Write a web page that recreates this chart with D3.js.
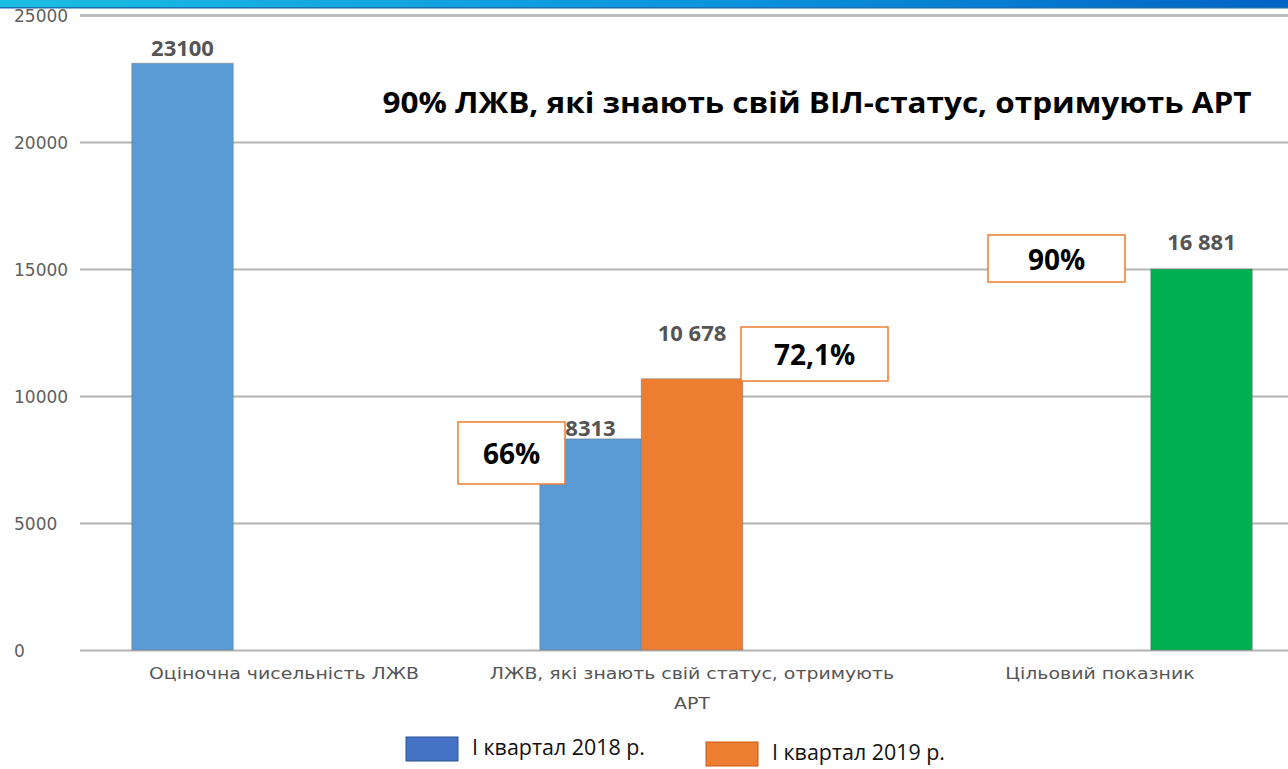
<!DOCTYPE html>
<html>
<head>
<meta charset="utf-8">
<script src="https://cdn.jsdelivr.net/npm/d3@7"></script>
<style>
    body { margin: 0; background: #fff; }
    svg { display: block; }
</style>
</head>
<body>
<svg></svg>
<script>
"use strict";

// chart data
var categories = ["Оціночна чисельність ЛЖВ", "ЛЖВ, які знають свій статус, отримують АРТ", "Цільовий показник"];
var series = ["І квартал 2018 р.", "І квартал 2019 р.", "target"];
var values = [
    [23100, null, null],
    [8313, 10678, null],
    [null, null, 15000]
];
var valueLabels = [
    ["23100", null, null],
    ["8313", "10 678", null],
    [null, null, "16 881"]
];
var yTicks = [0, 5000, 10000, 15000, 20000, 25000];
var title = "90% ЛЖВ, які знають свій ВІЛ-статус, отримують АРТ";
var percentNotes = ["66%", "72,1%", "90%"];

var width = 1288, height = 769;
var colors = ["#5b9bd5", "#ed7d31", "#00b050"];
var legendColors = ["#4472c4", "#ed7d31"];

var svg = d3.select("svg")
    .attr("width", width)
    .attr("height", height)
    .style("font-family", "'Open Sans', sans-serif");

// top banner strip
var grad = svg.append("defs").append("linearGradient")
    .attr("id", "banner").attr("x1", 0).attr("x2", 1).attr("y1", 0).attr("y2", 0);
grad.append("stop").attr("offset", "0%").attr("stop-color", "#1bbde3");
grad.append("stop").attr("offset", "60%").attr("stop-color", "#0a8fdc");
grad.append("stop").attr("offset", "100%").attr("stop-color", "#0063c4");
svg.append("rect").attr("x", 0).attr("y", 0).attr("width", width).attr("height", 8)
    .style("fill", "url(#banner)");
svg.append("rect").attr("x", 0).attr("y", 7).attr("width", width).attr("height", 1.5)
    .style("fill", "#1a6fb0");

// scales
var xScale = d3.scaleBand()
    .domain(categories)
    .range([80, 1304]);
var xInner = d3.scaleBand()
    .domain(series)
    .range([0, xScale.bandwidth()])
    .paddingOuter(0.51);
var yScale = d3.scaleLinear()
    .domain([0, 25000])
    .range([650, 15]);

// gridlines
var yAxis = d3.axisLeft(yScale)
    .tickValues(yTicks)
    .tickSize(-(width - 80))
    .tickFormat(d => d);

var gy = svg.append("g")
    .attr("transform", "translate(80,0)")
    .call(yAxis);
gy.select(".domain").remove();
gy.selectAll(".tick line")
    .style("stroke", "#b4b4b4")
    .style("stroke-width", 2);
gy.selectAll(".tick text")
    .attr("x", -66)
    .attr("dy", "0.36em")
    .attr("text-anchor", "start")
    .style("fill", "#606060")
    .style("font-size", "17px")
    .style("font-family", "'DejaVu Sans', sans-serif");
gy.selectAll(".tick").filter(d => d == 25000).select("line")
    .style("stroke", "#bdbdbd")
    .style("stroke-width", 3);

// bars
var cells = [];
categories.forEach(function(c, i) {
    series.forEach(function(s, j) {
        if (values[i][j] != null) {
            cells.push({cat: c, ser: s, j: j, value: values[i][j], label: valueLabels[i][j]});
        }
    });
});

svg.append("g")
    .selectAll("rect")
    .data(cells)
    .enter()
    .append("rect")
    .attr("x", d => xScale(d.cat) + xInner(d.ser))
    .attr("y", d => yScale(d.value))
    .attr("width", xInner.bandwidth())
    .attr("height", d => yScale(0) - yScale(d.value))
    .style("fill", d => colors[d.j])
    .style("stroke", "rgba(110,110,110,0.45)")
    .style("stroke-width", 1);

// value labels (manual offsets as in the original slide)
var labelOffsets = {"23100": 7, "8313": 3, "10 678": 38, "16 881": 19};
svg.append("g")
    .selectAll("text")
    .data(cells)
    .enter()
    .append("text")
    .attr("x", d => xScale(d.cat) + xInner(d.ser) + xInner.bandwidth() / 2)
    .attr("y", d => yScale(d.value) - labelOffsets[d.label])
    .attr("text-anchor", "middle")
    .style("font-size", "22px")
    .style("font-weight", "bold")
    .style("fill", "#555")
    .text(d => d.label);

// category labels, stretched a bit wider like the slide
var catG = svg.append("g");
categories.forEach(function(c, i) {
    var cx = xScale(c) + xScale.bandwidth() / 2;
    var lines = i == 1 ? ["ЛЖВ, які знають свій статус, отримують", "АРТ"] : [c];
    lines.forEach(function(l, k) {
        var t = catG.append("text")
            .attr("x", cx)
            .attr("y", 679 + k * 30)
            .attr("text-anchor", "middle")
            .style("font-size", "16px")
            .style("font-family", "'DejaVu Sans', sans-serif")
            .style("fill", "#555")
            .text(l);
        t.attr("textLength", t.node().getComputedTextLength() * 1.18)
            .attr("lengthAdjust", "spacingAndGlyphs");
    });
});

// title
svg.append("text")
    .attr("x", 817)
    .attr("y", 113)
    .attr("text-anchor", "middle")
    .attr("textLength", 869)
    .attr("lengthAdjust", "spacingAndGlyphs")
    .style("font-size", "29px")
    .style("font-weight", "bold")
    .style("fill", "#000")
    .text(title);

// percentage callouts
var noteBoxes = [
    {x: 458, y: 422, w: 107, h: 62},
    {x: 741, y: 327, w: 147, h: 54},
    {x: 988, y: 235, w: 137, h: 47}
];
var notes = svg.append("g")
    .selectAll("g")
    .data(percentNotes)
    .enter()
    .append("g");
notes.append("rect")
    .attr("x", (d, i) => noteBoxes[i].x)
    .attr("y", (d, i) => noteBoxes[i].y)
    .attr("width", (d, i) => noteBoxes[i].w)
    .attr("height", (d, i) => noteBoxes[i].h)
    .style("fill", "#fff")
    .style("stroke", "#ed7d31")
    .style("stroke-width", 1.5);
notes.append("text")
    .attr("x", (d, i) => noteBoxes[i].x + noteBoxes[i].w / 2)
    .attr("y", (d, i) => noteBoxes[i].y + noteBoxes[i].h / 2 + 11)
    .attr("text-anchor", "middle")
    .style("font-size", "28px")
    .style("font-weight", "bold")
    .style("fill", "#000")
    .text(d => d);

// legend
var legendPos = [{x: 406, y: 737}, {x: 706, y: 742}];
var legend = svg.append("g")
    .selectAll("g")
    .data(series.slice(0, 2))
    .enter()
    .append("g")
    .attr("transform", (d, i) => "translate(" + legendPos[i].x + "," + legendPos[i].y + ")");
legend.append("rect")
    .attr("width", 52)
    .attr("height", 24)
    .style("fill", (d, i) => legendColors[i])
    .style("stroke", (d, i) => i == 0 ? "#2f528f" : "#c55a11")
    .style("stroke-width", 1);
legend.append("text")
    .attr("x", 66)
    .attr("y", 18)
    .attr("textLength", 173)
    .attr("lengthAdjust", "spacingAndGlyphs")
    .style("font-size", "22px")
    .style("fill", "#111")
    .text(d => d);
</script>
</body>
</html>
